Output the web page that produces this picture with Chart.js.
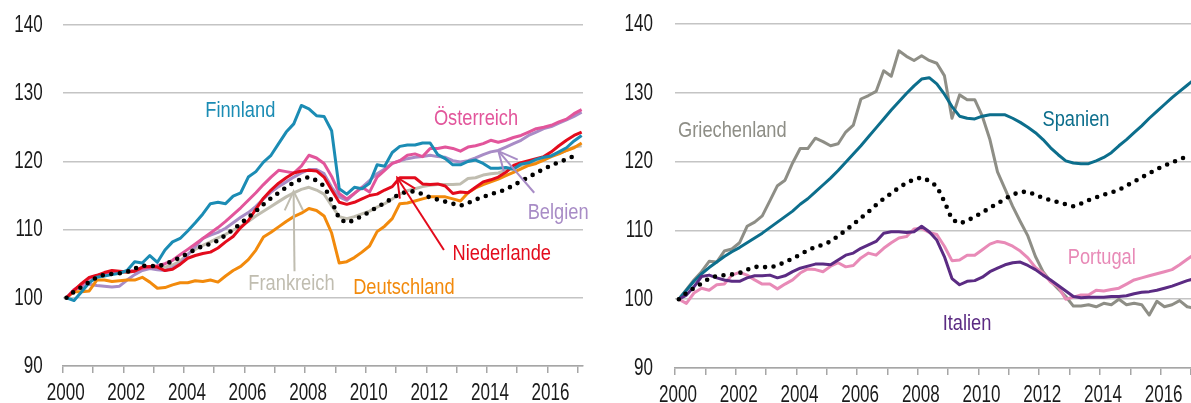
<!DOCTYPE html>
<html>
<head>
<meta charset="utf-8">
<script src="https://cdn.jsdelivr.net/npm/chart.js@4.4.1/dist/chart.umd.min.js"></script>
<style>
  html, body { margin: 0; padding: 0; background: #fff; }
  #wrap { display: flex; width: 1191px; height: 403px; }
  canvas { display: block; }
</style>
</head>
<body>
<div id="wrap">
  <canvas id="left_chart" width="595" height="403"></canvas>
  <canvas id="right_chart" width="596" height="403"></canvas>
</div>
<script>
// Quarterly index values, 2000Q1 = 100
const QUARTERS = [];
for (let y = 2000; y <= 2017; y++) {
  for (let q = 1; q <= 4; q++) {
    if (y < 2017 || q === 1) QUARTERS.push(`${y}Q${q}`);
  }
}

const EURO = [
  100.0, 100.9, 101.6, 102.3, 103.0, 103.4, 103.5, 103.6, 103.8, 104.3,
  104.7, 104.7, 104.6, 104.9, 105.4, 105.9, 106.5, 107.1, 107.6, 107.9,
  108.4, 109.2, 110.0, 110.9, 111.8, 112.7, 113.7, 114.6, 115.4, 116.2,
  116.9, 117.4, 117.7, 117.2, 116.4, 114.2, 111.6, 111.0, 111.4, 112.0,
  112.6, 113.3, 113.9, 114.6, 115.2, 115.6, 115.6, 115.2, 114.7, 114.4,
  114.1, 113.8, 113.5, 113.9, 114.4, 114.8, 115.2, 115.5, 115.9, 116.5,
  117.1, 117.7, 118.3, 118.9, 119.4, 119.9, 120.3, 120.8,
];

// left panel
const FINNLAND = [
  100.0, 99.6, 100.9, 102.2, 103.0, 103.2, 103.4, 103.6, 104.0, 105.3,
  105.1, 106.2, 105.2, 107.0, 108.2, 108.7, 109.8, 111.0, 112.3, 113.8,
  114.0, 113.8, 114.9, 115.4, 117.7, 118.5, 119.9, 120.9, 122.6, 124.3,
  125.5, 128.2, 127.7, 126.7, 126.6, 124.5, 116.0, 115.2, 116.2, 116.0,
  116.8, 119.5, 119.3, 121.3, 122.2, 122.4, 122.4, 122.7, 122.7, 121.0,
  120.4, 119.5, 119.5, 120.0, 120.2, 119.7, 119.0, 119.0, 119.1, 118.9,
  119.6, 119.8, 120.3, 120.6, 120.8, 121.4, 122.0, 123.0, 123.8,
];
const OESTERREICH = [
  100.0, 101.2, 101.9, 102.9, 103.2, 103.6, 103.7, 103.8, 103.9, 104.0,
  104.3, 104.5, 104.7, 105.0, 105.5, 106.3, 107.1, 107.9, 108.7, 109.5,
  110.3, 111.2, 112.2, 113.2, 114.3, 115.4, 116.6, 117.7, 118.7, 118.5,
  118.3, 119.3, 120.9, 120.5, 119.7, 117.8, 115.3, 114.5, 115.3, 116.2,
  115.5, 117.7, 118.7, 119.7, 120.1, 120.9, 121.1, 120.7, 121.9, 121.9,
  122.1, 121.9, 121.5, 122.1, 122.3, 122.6, 123.1, 122.8, 123.1, 123.5,
  123.8, 124.3, 124.8, 125.0, 125.3, 125.8, 126.2, 127.0, 127.6,
];
const BELGIEN = [
  100.0, 101.1, 101.6, 102.0, 101.8, 101.7, 101.6, 101.7, 102.6, 103.4,
  104.0, 104.3, 104.1, 104.0, 104.4, 105.0, 106.3, 107.5, 108.7, 109.2,
  109.6, 110.2, 111.0, 111.8, 112.5, 113.4, 114.5, 115.5, 116.3, 117.0,
  117.7, 118.3, 118.8, 118.8, 118.2, 116.2, 114.8, 114.3, 115.3, 116.2,
  117.2, 118.2, 118.9, 119.7, 120.1, 120.4, 120.6, 120.7, 120.9, 120.7,
  120.6, 120.1, 119.9, 120.1, 120.5, 121.0, 121.4, 121.6, 122.1, 122.6,
  123.1, 123.8, 124.3, 124.8, 125.1, 125.6, 126.1, 126.6, 127.2,
];
const NIEDERLANDE = [
  100.0, 101.1, 102.1, 103.0, 103.3, 103.7, 104.0, 103.9, 103.8, 103.9,
  104.5, 104.6, 104.5, 104.0, 104.2, 104.9, 105.8, 106.2, 106.5, 106.7,
  107.3, 108.2, 109.0, 110.3, 111.3, 113.0, 114.6, 115.8, 116.8, 117.6,
  118.3, 118.6, 118.7, 118.6, 117.7, 115.8, 114.0, 113.7, 114.0, 114.5,
  115.0, 115.2, 115.8, 116.3, 117.6, 117.6, 117.6, 116.7, 116.6, 116.7,
  116.4, 115.3, 115.5, 115.4, 116.2, 117.0, 117.3, 117.7, 118.4, 119.4,
  119.8, 120.1, 120.4, 120.7, 121.4, 122.3, 123.1, 123.8, 124.3,
];
const DEUTSCHLAND = [
  100.0, 100.9, 100.9, 101.0, 102.6, 102.6, 102.4, 102.5, 102.6, 102.6,
  103.0, 102.3, 101.4, 101.5, 101.9, 102.2, 102.2, 102.5, 102.4, 102.6,
  102.3, 103.2, 104.0, 104.6, 105.6, 107.0, 108.9, 109.6, 110.4, 111.2,
  111.9, 112.4, 113.1, 112.8, 112.0, 109.5, 105.1, 105.3, 105.9, 106.7,
  107.6, 109.7, 110.5, 111.6, 113.8, 113.9, 114.2, 114.5, 114.8, 114.8,
  114.8, 114.5, 114.2, 115.4, 116.1, 116.6, 117.0, 117.4, 117.9, 118.4,
  118.9, 119.4, 119.7, 120.2, 120.7, 121.1, 121.6, 122.0, 122.7,
];
const FRANKREICH = [
  100.0, 101.1, 101.9, 102.7, 103.1, 103.4, 103.6, 103.7, 103.7, 103.9,
  104.2, 104.4, 104.5, 104.5, 104.8, 105.4, 106.4, 107.1, 107.7, 108.2,
  108.8, 109.3, 109.9, 110.5, 111.2, 112.0, 112.7, 113.4, 114.1, 114.8,
  115.4, 115.9, 116.2, 115.8, 115.2, 113.5, 111.9, 111.6, 111.9, 112.3,
  112.7, 113.3, 113.8, 114.5, 115.2, 115.7, 116.0, 116.3, 116.5, 116.6,
  116.6, 116.6, 116.7, 117.5, 117.6, 118.0, 118.2, 118.3, 118.7, 118.9,
  119.4, 119.7, 120.0, 120.5, 120.9, 121.2, 121.6, 122.1, 122.3,
];

// right panel
const GRIECHENLAND = [
  100.0, 101.4, 102.8, 104.0, 105.5, 105.4, 107.0, 107.3, 108.2, 110.6,
  111.2, 112.1, 114.3, 116.5, 117.3, 119.8, 121.9, 121.9, 123.4, 122.9,
  122.3, 122.6, 124.3, 125.3, 129.1, 129.6, 130.2, 133.2, 132.4, 136.1,
  135.3, 134.7, 135.4, 134.7, 134.3, 132.5, 126.3, 129.7, 129.0, 129.0,
  126.6, 123.2, 118.5, 116.0, 113.5, 111.3, 109.2, 106.2, 104.0, 102.6,
  101.5, 100.4, 99.0, 99.0, 99.2, 98.9, 99.4, 99.2, 100.0, 99.2,
  99.4, 99.2, 97.7, 99.7, 98.9, 99.2, 99.8, 98.9, 98.7,
];
const SPANIEN = [
  100.0, 101.3, 102.6, 103.7, 104.6, 105.4, 106.2, 106.9, 107.5, 108.2,
  108.9, 109.6, 110.4, 111.2, 112.0, 112.8, 113.8, 114.6, 115.6, 116.6,
  117.6, 118.7, 119.9, 121.1, 122.3, 123.6, 124.9, 126.2, 127.5, 128.7,
  129.9, 131.0, 132.0, 132.2, 131.3, 129.8, 128.0, 126.6, 126.3, 126.2,
  126.6, 126.8, 126.8, 126.8, 126.3, 125.7, 125.0, 124.2, 123.2, 122.0,
  121.0, 120.1, 119.8, 119.7, 119.7, 120.1, 120.6, 121.3, 122.3, 123.2,
  124.2, 125.2, 126.3, 127.3, 128.3, 129.3, 130.2, 131.1, 132.0,
];
const PORTUGAL = [
  100.0, 99.4, 100.9, 101.6, 101.3, 102.1, 102.2, 103.5, 103.9, 103.5,
  102.8, 102.2, 102.2, 101.5, 102.2, 102.8, 103.8, 104.4, 104.3, 104.0,
  104.8, 105.3, 104.7, 104.9, 106.0, 106.7, 106.4, 107.4, 108.2, 108.9,
  109.1, 110.2, 110.3, 109.7, 109.4, 107.7, 105.6, 105.7, 106.4, 106.4,
  107.2, 108.0, 108.4, 108.2, 107.7, 107.0, 106.0, 104.6, 103.8, 102.5,
  101.8, 100.0, 100.3, 100.6, 100.6, 101.3, 101.2, 101.4, 101.6, 102.2,
  102.8, 103.1, 103.4, 103.7, 104.0, 104.3, 105.0, 105.8, 106.6,
];
const ITALIEN = [
  100.0, 100.6, 101.8, 103.3, 103.5, 103.1, 102.8, 102.6, 102.6, 103.1,
  103.4, 103.4, 103.5, 103.1, 103.4, 104.0, 104.5, 104.8, 105.1, 105.1,
  105.0, 105.7, 106.4, 106.7, 107.4, 107.9, 108.4, 109.6, 109.8, 109.8,
  109.7, 109.8, 110.6, 109.8, 108.6, 106.2, 103.0, 102.1, 102.6, 102.7,
  103.2, 104.0, 104.5, 105.0, 105.3, 105.4, 104.9, 104.3, 103.5, 102.8,
  102.0, 101.2, 100.4, 100.2, 100.3, 100.3, 100.3, 100.4, 100.4, 100.5,
  100.8, 101.0, 101.1, 101.3, 101.6, 101.9, 102.3, 102.7, 103.0,
];

const Y_TICKS = [90, 100, 110, 120, 130, 140];
const X_LABEL_YEARS = [2000, 2002, 2004, 2006, 2008, 2010, 2012, 2014, 2016];

const COLORS = {
  euro: "#000000",
  fin: "#1b8cb4",
  aut: "#e2559b",
  bel: "#a88cc6",
  nld: "#e30b1c",
  deu: "#f28a0c",
  fra: "#c0bdb0",
  grc: "#8e8e86",
  esp: "#0c6e8c",
  prt: "#e88ab7",
  ita: "#5b2b83",
};

// no narrow face installed, so text is squeezed horizontally when drawn
const FONT = '"Liberation Sans", Arial, sans-serif';
const TICK_FONT = `23px ${FONT}`;
const NOTE_FONT = `22px ${FONT}`;
const TICK_SQUEEZE = 0.74;
const NOTE_SQUEEZE = 0.83;

// quarter label -> decimal year at mid-quarter
const qToX = (lbl) => {
  const [y, q] = lbl.split("Q").map(Number);
  return y + (q - 1) / 4 + 0.125;
};
const toPoints = (arr) => arr.map((v, i) => ({ x: qToX(QUARTERS[i]), y: v }));

function lineSet(label, arr, color) {
  return {
    label, data: toPoints(arr), borderColor: color, borderWidth: 3,
    pointRadius: 0, tension: 0, fill: false, borderJoinStyle: "round",
  };
}
function dotSet(arr) {
  return {
    label: "Euroraum", data: toPoints(arr), borderColor: COLORS.euro, borderWidth: 4.6,
    borderDash: [0, 8.6], borderCapStyle: "round", pointRadius: 0, tension: 0, fill: false,
  };
}

// annotation texts and arrows, in data units
const LEFT_NOTES = [
  { text: "Finnland",    x: 2005.86, y: 126.5, color: COLORS.fin },
  { text: "Österreich",  x: 2013.64, y: 125.4, color: COLORS.aut },
  { text: "Belgien",     x: 2016.35, y: 111.6, color: COLORS.bel },
  { text: "Niederlande", x: 2014.49, y: 105.5, color: COLORS.nld },
  { text: "Deutschland", x: 2011.26, y: 100.6, color: COLORS.deu },
  { text: "Frankreich",  x: 2007.55, y: 101.1, color: COLORS.fra },
];
const LEFT_ARROWS = [
  { from: [2007.65, 103.9], to: [2007.62, 115.6], color: COLORS.fra },
  { from: [2012.58, 107.0], to: [2011.04, 117.6], color: COLORS.nld },
  { from: [2015.56, 115.4], to: [2014.38, 121.5], color: COLORS.bel },
];
const RIGHT_NOTES = [
  { text: "Griechenland", x: 2001.89, y: 123.6, color: COLORS.grc },
  { text: "Spanien",      x: 2013.21, y: 125.2, color: COLORS.esp },
  { text: "Portugal",     x: 2014.06, y: 105.1, color: COLORS.prt },
  { text: "Italien",      x: 2009.62, y: 95.5,  color: COLORS.ita },
];

function squeezedText(ctx, text, px, py, sx) {
  ctx.save();
  ctx.translate(px, py);
  ctx.scale(sx, 1);
  ctx.fillText(text, 0, 0);
  ctx.restore();
}

function notesPlugin(notes, arrows, yPad) {
  return {
    id: "notes",
    afterDatasetsDraw(chart) {
      const { ctx, chartArea, scales: { x, y } } = chart;
      ctx.save();

      // tick labels
      ctx.fillStyle = "#1a1a1a";
      ctx.font = TICK_FONT;
      ctx.textAlign = "right";
      ctx.textBaseline = "middle";
      Y_TICKS.forEach((v) => {
        squeezedText(ctx, String(v), chartArea.left - yPad, y.getPixelForValue(v) + 0.5, TICK_SQUEEZE);
      });
      ctx.textAlign = "center";
      ctx.textBaseline = "alphabetic";
      X_LABEL_YEARS.forEach((yr) => {
        squeezedText(ctx, String(yr), x.getPixelForValue(yr) + 3, chartArea.bottom + 34, TICK_SQUEEZE);
      });

      arrows.forEach((a) => {
        const x1 = x.getPixelForValue(a.from[0]), y1 = y.getPixelForValue(a.from[1]);
        const x2 = x.getPixelForValue(a.to[0]),   y2 = y.getPixelForValue(a.to[1]);
        const ang = Math.atan2(y1 - y2, x1 - x2);
        const L = 21, s = 0.45;
        ctx.strokeStyle = a.color;
        ctx.lineWidth = 2;
        ctx.lineCap = "butt";
        ctx.beginPath(); ctx.moveTo(x1, y1); ctx.lineTo(x2, y2); ctx.stroke();
        ctx.beginPath();
        ctx.moveTo(x2 + L * Math.cos(ang + s), y2 + L * Math.sin(ang + s));
        ctx.lineTo(x2, y2);
        ctx.lineTo(x2 + L * Math.cos(ang - s), y2 + L * Math.sin(ang - s));
        ctx.stroke();
      });

      ctx.font = NOTE_FONT;
      ctx.textAlign = "center";
      ctx.textBaseline = "alphabetic";
      notes.forEach((n) => {
        ctx.fillStyle = n.color;
        squeezedText(ctx, n.text, x.getPixelForValue(n.x), y.getPixelForValue(n.y), NOTE_SQUEEZE);
      });
      ctx.restore();
    },
  };
}

function makeChart(id, datasets, opts) {
  const ctx = document.getElementById(id);
  return new Chart(ctx, {
    type: "line",
    data: { datasets },
    options: {
      responsive: false,
      animation: false,
      events: [],
      layout: { padding: { left: 0, right: opts.padRight, top: opts.padTop, bottom: 0 } },
      plugins: { legend: { display: false }, tooltip: { enabled: false } },
      scales: {
        x: {
          type: "linear", min: 2000, max: opts.xMax,
          afterFit: (s) => { s.height = opts.axisH; },
          grid: { drawOnChartArea: false, drawTicks: true, tickLength: 7, color: "#a6a6a6", lineWidth: 1.5 },
          border: { display: true, color: "#a6a6a6", width: 1.5 },
          ticks: { display: false, stepSize: 1, includeBounds: false, autoSkip: false },
        },
        y: {
          min: Y_TICKS[0], max: Y_TICKS[Y_TICKS.length - 1],
          afterFit: (s) => { s.width = opts.axisW; },
          afterBuildTicks: (s) => { s.ticks = Y_TICKS.map((v) => ({ value: v })); },
          grid: { drawTicks: false, color: "#c4c4c4", lineWidth: 1.5 },
          border: { display: false },
          ticks: { display: false },
        },
      },
    },
    plugins: [notesPlugin(opts.notes, opts.arrows, opts.yPad)],
  });
}

makeChart("left_chart", [
  dotSet(EURO),
  lineSet("Finnland", FINNLAND, COLORS.fin),
  lineSet("Niederlande", NIEDERLANDE, COLORS.nld),
  lineSet("Deutschland", DEUTSCHLAND, COLORS.deu),
  lineSet("Österreich", OESTERREICH, COLORS.aut),
  lineSet("Belgien", BELGIEN, COLORS.bel),
  lineSet("Frankreich", FRANKREICH, COLORS.fra),
], { padRight: 12, padTop: 25, xMax: 2017.17, axisH: 37, axisW: 62.7, yPad: 20, notes: LEFT_NOTES, arrows: LEFT_ARROWS });

makeChart("right_chart", [
  dotSet(EURO),
  lineSet("Italien", ITALIEN, COLORS.ita),
  lineSet("Portugal", PORTUGAL, COLORS.prt),
  lineSet("Spanien", SPANIEN, COLORS.esp),
  lineSet("Griechenland", GRIECHENLAND, COLORS.grc),
], { padRight: 0, padTop: 24, xMax: 2017.0, axisH: 35, axisW: 80, yPad: 22, notes: RIGHT_NOTES, arrows: [] });
</script>
</body>
</html>
